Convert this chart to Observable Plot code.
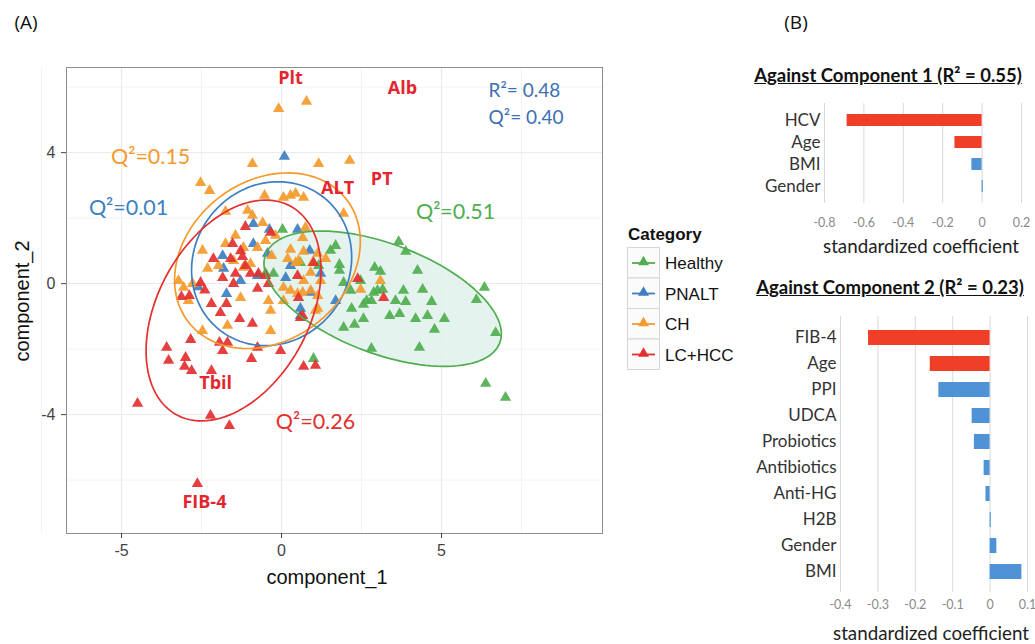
<!DOCTYPE html>
<html><head><meta charset="utf-8">
<script src="https://cdn.jsdelivr.net/npm/d3@7"></script>
<script src="https://cdn.jsdelivr.net/npm/@observablehq/plot@0.6"></script>
<style>
body{margin:0;background:#fff;width:1035px;height:644px;position:relative;overflow:hidden;font-family:"Liberation Sans",Arial,sans-serif}
.abs{position:absolute}
.ttl{font-family:Lato,"Open Sans",sans-serif;font-weight:bold;font-size:18.5px;text-decoration:underline;color:#111;white-space:nowrap;transform:translate(-50%,-50%)}
.xl{font-family:Lato,"Open Sans",sans-serif;font-size:18.8px;color:#222;white-space:nowrap;transform:translate(-50%,-50%)}
.pl{font-family:"Open Sans",Lato,sans-serif;font-size:19px;color:#111;transform:translate(-50%,-50%)}
.ax{font-family:"Liberation Sans",Arial,sans-serif;font-size:20px;color:#111;white-space:nowrap;transform:translate(-50%,-50%)}
</style></head><body>
<script>
// ---------------- DATA ----------------
const categories = ["Healthy","PNALT","CH","LC+HCC"];
const catColors  = ["#4fae4f","#3d7fc1","#f49a2c","#e3302f"];

const healthyX = [3.66,3.88,2.91,3.09,4.25,1.81,1.81,1.94,3.00,2.88,3.16,3.81,4.41,6.34,6.09,4.69,3.88,3.56,2.66,2.56,2.81,2.19,3.38,3.69,4.19,4.56,5.09,2.56,2.28,1.94,4.78,6.69,2.81,4.31,1.00,6.38,7.00,0.03,-0.50,-0.25,1.69,0.59,1.16,1.53,2.16,2.47];
const healthyY = [1.28,0.98,0.49,0.37,0.40,0.58,0.40,0.03,-0.21,-0.27,-0.18,-0.21,-0.18,-0.12,-0.49,-0.55,-0.55,-0.52,-0.52,-0.64,-0.52,-0.76,-0.98,-0.92,-1.07,-0.98,-1.07,-1.07,-1.25,-1.34,-1.40,-1.50,-1.98,-1.95,-2.29,-3.05,-3.48,1.65,0.31,0.31,1.16,0.64,0.55,1.01,-0.21,0.09];

const pnaltX = [0.09,-0.88,-0.38,0.50,-0.88,0.88,-1.84,-0.44,0.13,1.22,-1.72,1.69,0.59,-1.81,-0.75,0.28,-1.28,0.91,0.59,-2.6];
const pnaltY = [3.88,1.83,1.65,1.65,1.22,1.01,0.85,0.92,0.18,0.31,-0.31,-0.52,-0.76,0.46,0.24,0.55,0.09,-0.27,-0.98,-0.1];

const chX = [-0.09,0.78,-0.91,1.16,2.13,-2.53,-2.25,-0.53,0.06,0.28,0.44,0.69,-1.75,-1.06,-0.91,-0.59,0.75,0.66,1.94,-2.47,-1.75,-1.19,-0.75,-0.31,0.28,0.53,1.13,1.38,-2.31,-1.97,-1.50,-1.19,-0.97,-2.78,-3.06,-1.28,0.06,0.69,0.91,1.22,0.66,1.13,0.06,0.69,0.44,0.97,0.19,0.28,3.09,2.47,1.13,-3.22,-2.91,-0.41,-0.34,-0.34,-1.69,1.06,-2.47,0.50,0.91,-0.50,-0.19,-1.44];
const chY = [5.34,5.56,3.66,3.66,3.76,3.08,2.84,2.69,2.63,2.69,2.75,2.63,2.20,2.23,2.08,1.86,1.71,1.40,2.14,1.01,1.22,1.10,1.10,0.85,1.04,0.70,0.92,0.76,0.46,0.55,0.70,0.49,0.61,0.00,-0.12,-0.43,-0.12,0.09,0.34,0.09,-0.27,-0.37,-0.52,0.98,0.64,0.64,0.76,-0.21,0.09,-0.18,-0.76,0.09,-0.52,-0.52,-0.82,-1.44,-1.28,-0.82,-1.44,-0.31,-0.21,1.31,1.47,1.47];

const lcX = [-1.13,-1.53,-1.22,-1.59,-1.84,-1.44,-0.97,-0.72,-1.50,-0.75,-0.41,-2.53,-2.88,-3.13,-2.19,-1.72,1.00,0.53,-0.50,-1.91,-1.31,-0.91,-2.84,-3.59,-3.53,-3.00,-3.03,-2.81,-2.19,-1.94,-1.69,-1.84,-0.75,-0.94,-0.03,0.69,1.06,-2.22,0.66,0.50,-4.50,-1.63,-2.63,-0.34,2.38,3.19,0.59,-1.28,-2.13,-1.13,-2.4];
const lcY = [1.74,1.22,0.82,0.76,0.18,0.31,0.31,0.31,0.00,-0.15,0.00,0.03,-0.37,-0.40,-0.61,-0.61,0.64,-0.43,0.24,-0.89,-1.07,-1.22,-1.71,-1.95,-2.35,-2.26,-2.53,-2.66,-2.66,-1.80,-1.80,-2.05,-1.95,-2.29,-2.05,-2.53,-2.50,-4.03,-0.98,0.24,-3.66,-4.34,-6.11,1.56,0.15,-0.43,-1.04,1.0,0.76,0.55,-0.2];

// confidence ellipses: centre, semi-axes, rotation (deg)
const ellipseCat   = ["Healthy","PNALT","CH","LC+HCC"];
const ellipseCx    = [3.16,-0.31,-0.44,-1.50];
const ellipseCy    = [-0.46,0.61,0.70,-0.82];
const ellipseA     = [3.90,2.60,3.10,3.65];
const ellipseB     = [1.68,2.40,2.45,2.35];
const ellipseAngle = [-20,45,35,60];

// annotations in panel A
const varLabels = ["Plt","Alb","ALT","PT","Tbil","FIB-4"];
const varLabelX = [0.28,3.78,1.75,3.13,-2.06,-2.41];
const varLabelY = [6.26,5.98,2.90,3.18,-3.05,-6.69];
const q2Labels = ["Q²=0.15","Q²=0.01","Q²=0.51","Q²=0.26"];
const q2Cat    = ["CH","PNALT","Healthy","LC+HCC"];
const q2X      = [-4.09,-4.78,5.44,1.06];
const q2Y      = [3.85,2.32,2.17,-4.24];
const fitLabels = ["R²= 0.48","Q²= 0.40"];
const fitX = [6.47,6.47];
const fitY = [5.89,5.07];

// panel B
const comp1Vars = ["HCV","Age","BMI","Gender"];
const comp1Coef = [-0.685,-0.138,-0.052,0.006];
const comp1Key  = [true,true,false,false];
const comp1Ticks = [-0.8,-0.6,-0.4,-0.2,0,0.2];

const comp2Vars = ["FIB-4","Age","PPI","UDCA","Probiotics","Antibiotics","Anti-HG","H2B","Gender","BMI"];
const comp2Coef = [-0.325,-0.160,-0.137,-0.048,-0.042,-0.016,-0.011,0.003,0.018,0.085];
const comp2Key  = [true,true,false,false,false,false,false,false,false,false];
const comp2Ticks = [-0.4,-0.3,-0.2,-0.1,0,0.1];

// ---------------- BUILD ----------------
const points = [];
[[healthyX,healthyY,"Healthy"],[pnaltX,pnaltY,"PNALT"],[chX,chY,"CH"],[lcX,lcY,"LC+HCC"]].forEach(([xs,ys,c])=>{
  xs.forEach((x,i)=>points.push({x, y: ys[i], cat: c}));
});
const ellPts = [];
ellipseCat.forEach((c,k)=>{
  const p = ellipseAngle[k]*Math.PI/180;
  d3.range(0, 361, 3).forEach(t=>{
    const r = t*Math.PI/180, ex = ellipseA[k]*Math.cos(r), ey = ellipseB[k]*Math.sin(r);
    ellPts.push({cat:c, x: ellipseCx[k] + ex*Math.cos(p) - ey*Math.sin(p), y: ellipseCy[k] + ex*Math.sin(p) + ey*Math.cos(p)});
  });
});
const varRows = varLabels.map((t,i)=>({t, x:varLabelX[i], y:varLabelY[i]}));
const q2Rows = q2Labels.map((t,i)=>({t, x:q2X[i], y:q2Y[i], cat:q2Cat[i]}));
const fitRows = fitLabels.map((t,i)=>({t, x:fitX[i], y:fitY[i]}));

function place(node, left, top){
  const d = document.createElement("div");
  d.className = "abs"; d.style.left = left+"px"; d.style.top = top+"px";
  d.appendChild(node); document.body.appendChild(d); return d;
}
function label(text, cls, x, y, extra){
  const d = document.createElement("div");
  d.className = "abs "+cls; d.style.left = x+"px"; d.style.top = y+"px";
  if (extra) Object.assign(d.style, extra);
  d.textContent = text; document.body.appendChild(d);
}

const fmtTick = d => d === 0 ? "0" : (d < 0 ? "-" : "") + Math.abs(d);

const plotA = Plot.plot({
  width: 612, height: 600,
  marginLeft: 66, marginRight: 10, marginTop: 67, marginBottom: 67,
  x: {domain: [-6.72, 10.03]},
  y: {domain: [-7.63, 6.6]},
  color: {domain: categories, range: catColors},
  style: {fontFamily: "Liberation Sans, Arial, sans-serif", fontSize: "16px", background: "transparent", overflow: "visible"},
  marks: [
    Plot.gridX([-7.5,-2.5,2.5,7.5], {stroke: "#f3f3f3", strokeOpacity: 1}),
    Plot.gridY([-6,-2,2,6], {stroke: "#f3f3f3", strokeOpacity: 1}),
    Plot.gridX([-5,0,5], {stroke: "#e9e9e9", strokeOpacity: 1}),
    Plot.gridY([-4,0,4], {stroke: "#e9e9e9", strokeOpacity: 1}),
    Plot.line(ellPts.filter(d=>d.cat==="Healthy"), {x:"x", y:"y", fill:"#e1f1ec", fillOpacity:0.85, stroke:"none"}),
    Plot.dot(points, {x:"x", y:"y", fill:"cat", symbol:"triangle", r:4.2, fillOpacity:0.92}),
    Plot.line(ellPts, {x:"x", y:"y", z:"cat", stroke:"cat", strokeWidth:1.7}),
    Plot.text(varRows, {x:"x", y:"y", text:"t", fill:"#e3262e", fontSize:18, fontWeight:"bold", fontFamily:"Open Sans, Lato, sans-serif"}),
    Plot.text(q2Rows, {x:"x", y:"y", text:"t", fill:"cat", fontSize:21.5, fontFamily:"Lato, Open Sans, sans-serif"}),
    Plot.text(fitRows, {x:"x", y:"y", text:"t", fill:"#3d6fb5", fontSize:19, textAnchor:"start", fontFamily:"Lato, Open Sans, sans-serif"}),
    Plot.frame({stroke:"#8e8e8e"}),
    Plot.axisX({ticks:[-5,0,5], tickFormat: fmtTick, tickSize:5, tickPadding:6, label:null, stroke:"#444", fill:"#444"}),
    Plot.axisY({ticks:[-4,0,4], tickFormat: fmtTick, tickSize:5, tickPadding:6, label:null, stroke:"#444", fill:"#444"})
  ]
});
place(plotA, 0, 0);
label("component_1", "ax", 327, 577);
label("component_2", "ax", 22, 301, {transform: "translate(-50%,-50%) rotate(-90deg)"});
label("(A)", "pl", 26, 22);
label("(B)", "pl", 796, 22);

// legend
const leg = d3.create("svg").attr("width", 130).attr("height", 160).style("overflow","visible");
leg.append("text").attr("x", 8).attr("y", 20).text("Category")
  .attr("font-family","Liberation Sans, Arial, sans-serif").attr("font-weight","bold").attr("font-size",17).attr("fill","#111");
categories.forEach((c,i)=>{
  const y0 = 27 + i*30.5;
  leg.append("rect").attr("x",7.5).attr("y",y0+0.5).attr("width",32).attr("height",30.5).attr("fill","#fbfbfb").attr("stroke","#d6d6d6");
  leg.append("line").attr("x1",12).attr("x2",35).attr("y1",y0+16).attr("y2",y0+16).attr("stroke",catColors[i]).attr("stroke-width",1.8);
  leg.append("path").attr("d", d3.symbol(d3.symbolTriangle, 52)()).attr("transform",`translate(23.5,${y0+15})`).attr("fill",catColors[i]);
  leg.append("text").attr("x",45).attr("y",y0+16).attr("dy","0.36em").text(c)
    .attr("font-family","Liberation Sans, Arial, sans-serif").attr("font-size",17).attr("fill","#111");
});
place(leg.node(), 620, 220);

// panel B charts
function barChart(vars, coef, key, ticks, opts){
  const rows = vars.map((v,i)=>({v, c: coef[i], col: key[i] ? "#f03f28" : "#4f93d6"}));
  return Plot.plot({
    width: 305, height: opts.height,
    marginLeft: opts.ml, marginRight: opts.mr, marginTop: opts.mt, marginBottom: opts.mb,
    x: {domain: opts.domain},
    y: {domain: vars, padding: 0.44},
    color: {type: "identity"},
    style: {fontFamily: "Lato, Open Sans, sans-serif", background: "transparent", overflow: "visible"},
    marks: [
      Plot.gridX(ticks, {stroke: "#d9d9d9", strokeOpacity: 1}),
      Plot.barX(rows, {x: "c", y: "v", fill: "col"}),
      Plot.axisX({ticks, tickFormat: fmtTick, tickSize: 0, tickPadding: opts.tp, label: null, fill: "#8a8a8a", fontSize: 12.5}),
      Plot.axisY({tickSize: 0, tickPadding: 4, label: null, fill: "#333", fontSize: 17})
    ]
  });
}
place(barChart(comp1Vars, comp1Coef, comp1Key, comp1Ticks, {height:150, ml:94, mr:14, mt:13, mb:37, domain:[-0.8,0.2], tp:15}), 730, 90);
place(barChart(comp2Vars, comp2Coef, comp2Key, comp2Ticks, {height:317, ml:110, mr:8, mt:16, mb:25, domain:[-0.4,0.1], tp:8}), 730, 300);

label("Against Component 1 (R² = 0.55)", "ttl", 888, 75);
label("Against Component 2 (R² = 0.23)", "ttl", 890, 287);
label("standardized coefficient", "xl", 921, 245);
label("standardized coefficient", "xl", 931, 632);
</script>
</body></html>
